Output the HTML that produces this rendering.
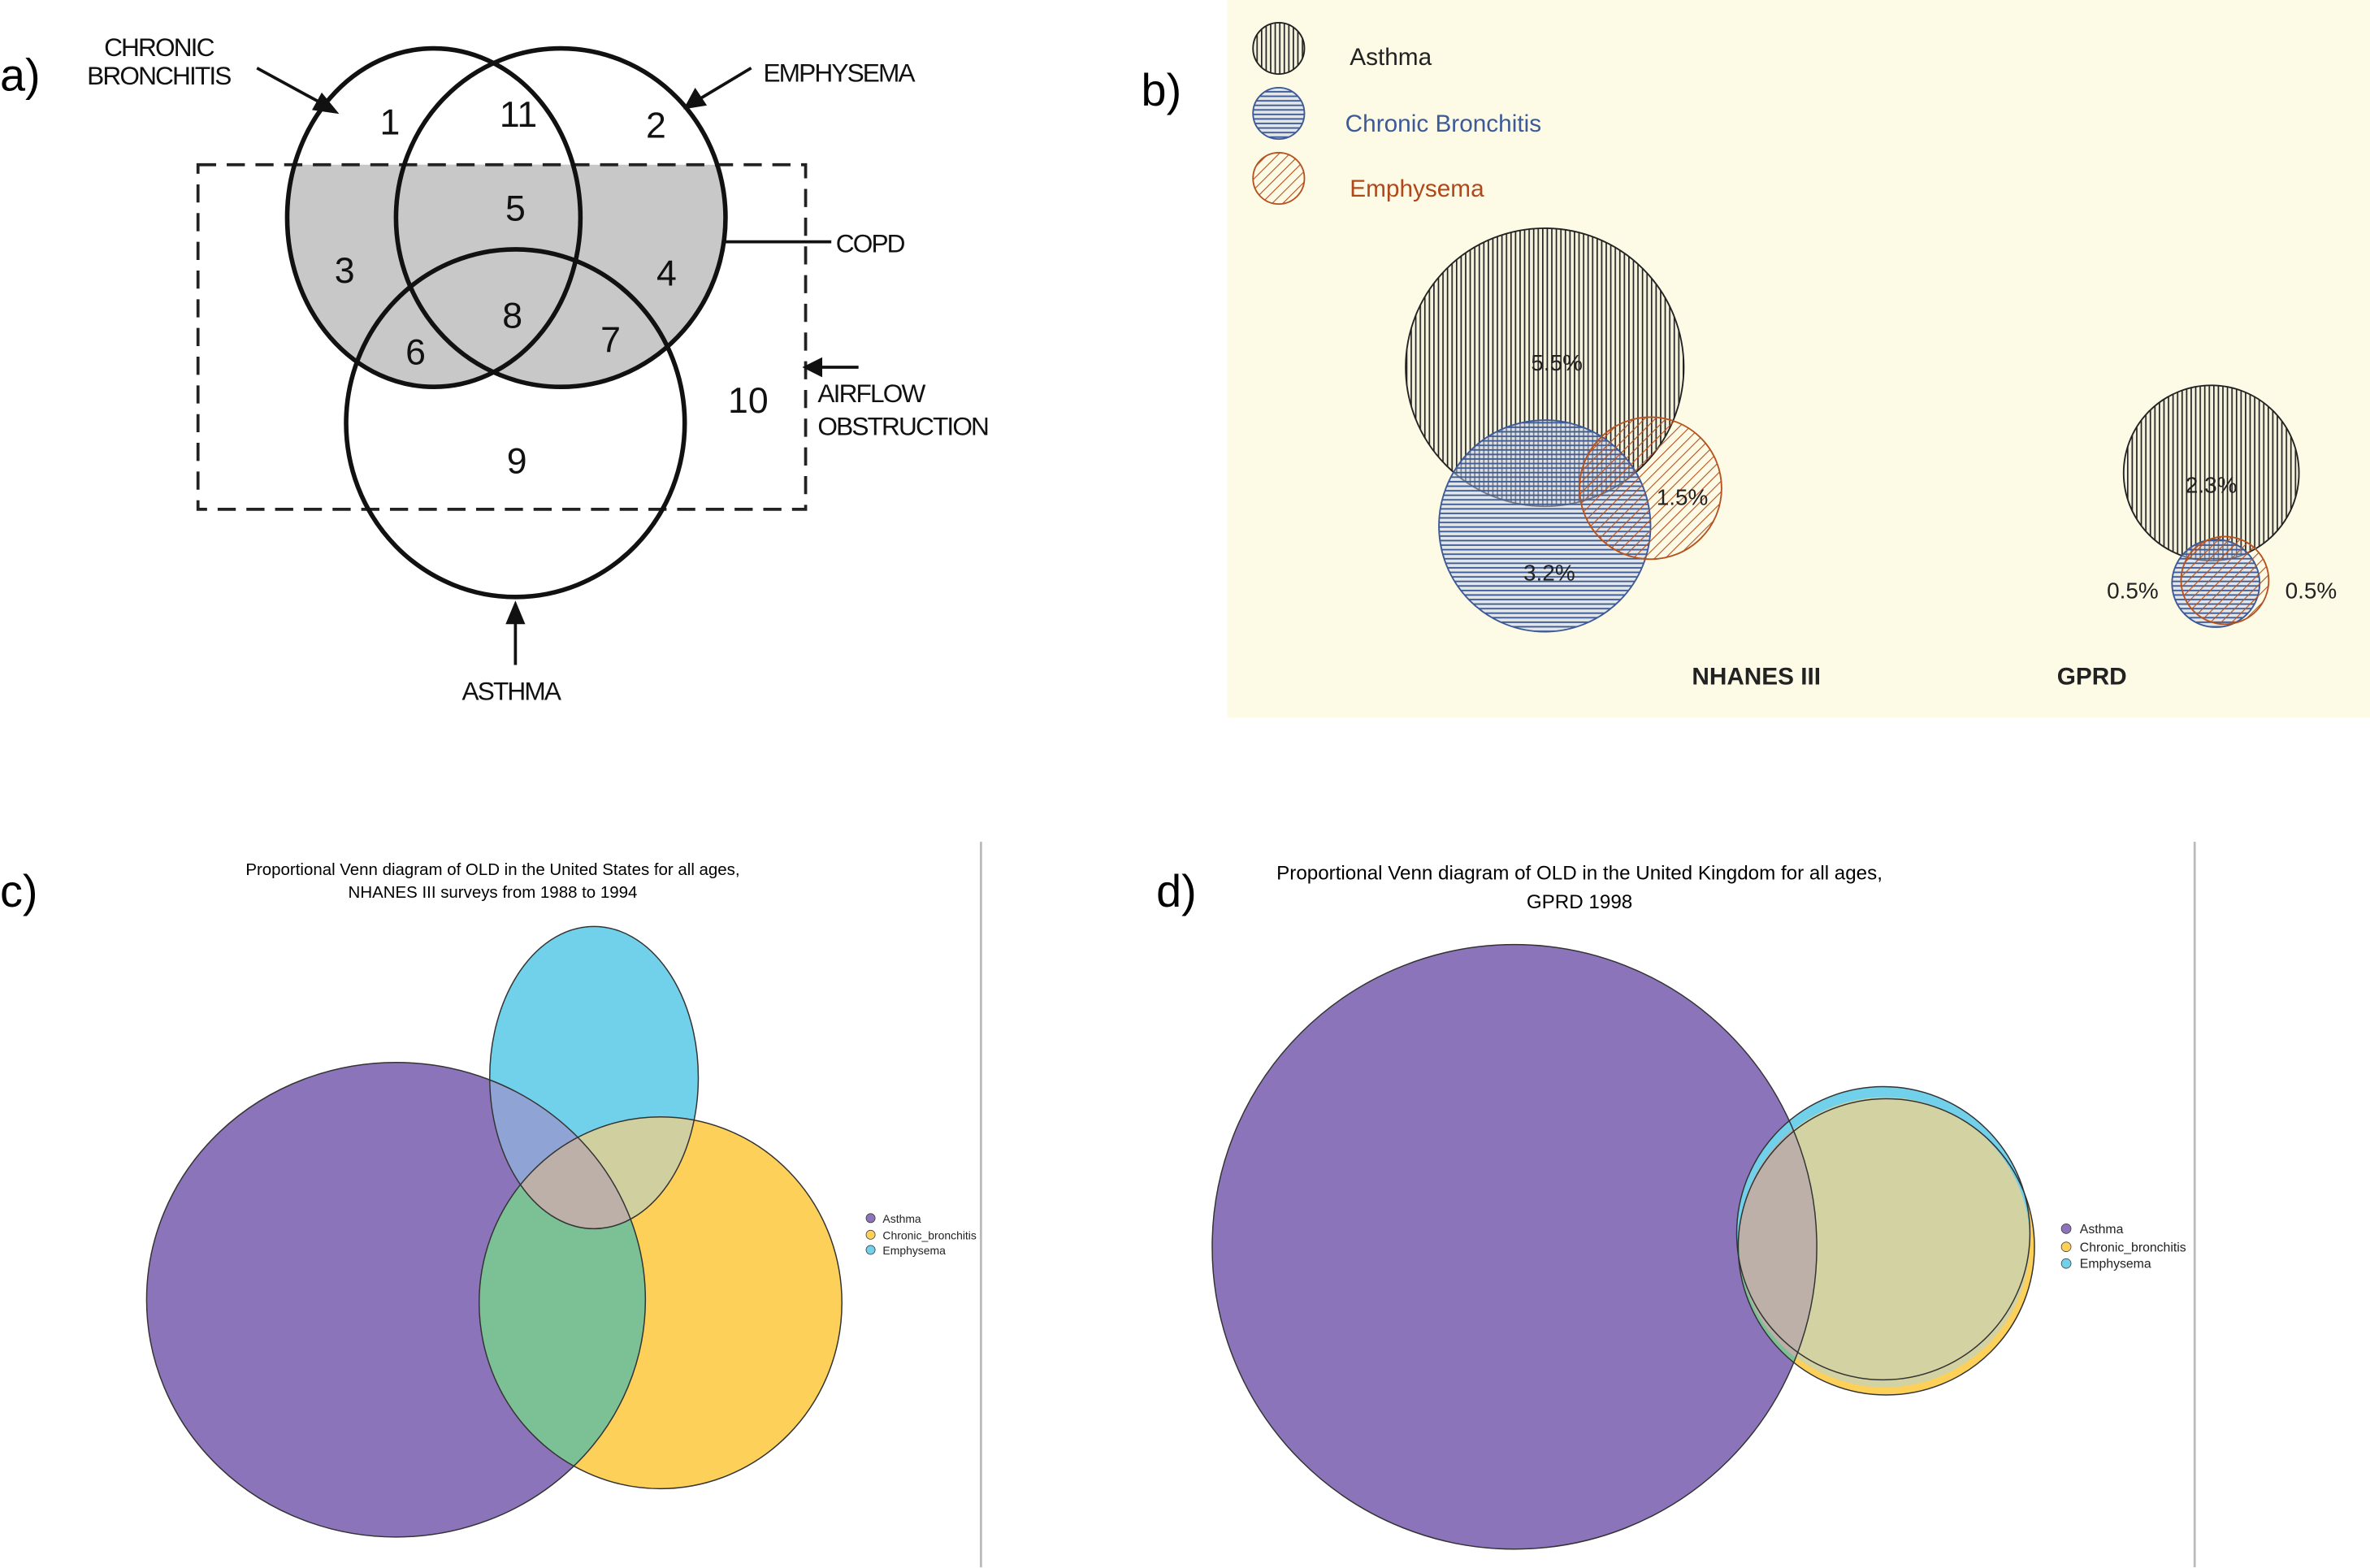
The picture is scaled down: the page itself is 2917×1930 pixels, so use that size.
<!DOCTYPE html>
<html><head><meta charset="utf-8"><style>
html,body{margin:0;padding:0;background:#fff;}
svg{display:block;}
text{font-family:"Liberation Sans",sans-serif;}
</style></head><body>
<svg width="2917" height="1930" viewBox="0 0 1568 1037.5" preserveAspectRatio="none" xmlns="http://www.w3.org/2000/svg">
<defs>
<pattern id="pv" width="3" height="3" patternUnits="userSpaceOnUse"><rect width="3" height="3" fill="#f4f1dc"/><line x1="0.7" y1="0" x2="0.7" y2="3" stroke="#222" stroke-width="0.9"/></pattern>
<pattern id="ph" width="3" height="3" patternUnits="userSpaceOnUse"><rect width="3" height="3" fill="#c9d2e6" fill-opacity="0.5"/><line x1="0" y1="0.7" x2="3" y2="0.7" stroke="#3c5a98" stroke-width="1"/></pattern>
<pattern id="pd" width="5" height="5" patternUnits="userSpaceOnUse" patternTransform="rotate(45)"><line x1="0" y1="0" x2="0" y2="5" stroke="#b5521f" stroke-width="1.2"/></pattern>
<clipPath id="cb"><ellipse cx="287" cy="144" rx="97" ry="112"/></clipPath>
<clipPath id="em"><ellipse cx="371" cy="144" rx="109" ry="112"/></clipPath>
<clipPath id="below"><rect x="0" y="109" width="700" height="400"/></clipPath>
<clipPath id="cP"><ellipse cx="262" cy="860" rx="165" ry="157"/></clipPath>
<clipPath id="cY"><ellipse cx="437" cy="862" rx="120" ry="123"/></clipPath>
<clipPath id="cC"><ellipse cx="393" cy="713" rx="69" ry="100"/></clipPath>
<clipPath id="dP"><circle cx="1002" cy="825" r="200"/></clipPath>
</defs>

<!-- Panel a -->
<text x="0" y="60" font-family="Liberation Sans" font-size="30">a)</text>
<g clip-path="url(#below)">
<ellipse cx="287" cy="144" rx="97" ry="112" fill="#c8c8c8"/>
<ellipse cx="371" cy="144" rx="109" ry="112" fill="#c8c8c8"/>
</g>
<rect x="131" y="109" width="402" height="228" fill="none" stroke="#222" stroke-width="2" stroke-dasharray="12,7"/>
<ellipse cx="287" cy="144" rx="97" ry="112" fill="none" stroke="#111" stroke-width="3"/>
<ellipse cx="371" cy="144" rx="109" ry="112" fill="none" stroke="#111" stroke-width="3"/>
<ellipse cx="341" cy="280" rx="112" ry="115" fill="none" stroke="#111" stroke-width="3"/>
<g font-size="24" text-anchor="middle" fill="#111">
<text x="258" y="89">1</text><text x="343" y="84">11</text><text x="434" y="91">2</text>
<text x="341" y="146">5</text><text x="228" y="187">3</text><text x="441" y="189">4</text>
<text x="339" y="217">8</text><text x="275" y="241">6</text><text x="404" y="233">7</text>
<text x="495" y="273">10</text><text x="342" y="313">9</text>
</g>
<g font-size="17" fill="#111" letter-spacing="-1">
<text x="105" y="37" text-anchor="middle">CHRONIC</text>
<text x="105" y="56" text-anchor="middle">BRONCHITIS</text>
<text x="505" y="54">EMPHYSEMA</text>
<text x="553" y="167">COPD</text>
<text x="541" y="266">AIRFLOW</text>
<text x="541" y="288">OBSTRUCTION</text>
<text x="338" y="463" text-anchor="middle">ASTHMA</text>
</g>
<g stroke="#111" stroke-width="2" fill="#111">
<line x1="170" y1="45" x2="214" y2="69"/><polygon points="222,74 208,72 213,63"/>
<line x1="497" y1="45" x2="462" y2="66"/><polygon points="454,71 460,60 466,69"/>
<line x1="480" y1="160" x2="550" y2="160"/>
<line x1="568" y1="243" x2="540" y2="243"/><polygon points="533,243 543,238 543,248"/>
<line x1="341" y1="440" x2="341" y2="410"/><polygon points="341,400 336,412 346,412"/>
</g>

<!-- Panel b -->
<text x="755" y="70" font-size="30">b)</text>
<rect x="812" y="0" width="756" height="475" fill="#fdfbe6"/>
<ellipse cx="846" cy="32" rx="17" ry="17" fill="url(#pv)" stroke="#222"/>
<ellipse cx="846" cy="75" rx="17" ry="17" fill="url(#ph)" stroke="#3c5a98"/>
<ellipse cx="846" cy="118" rx="17" ry="17" fill="url(#pd)" stroke="#b5521f"/>
<text x="893" y="43" font-size="16" fill="#222">Asthma</text>
<text x="890" y="87" font-size="16" fill="#3c5a98">Chronic Bronchitis</text>
<text x="893" y="130" font-size="16" fill="#b0481a">Emphysema</text>
<circle cx="1022" cy="243" r="92" fill="url(#pv)" stroke="#222"/>
<circle cx="1022" cy="348" r="70" fill="url(#ph)" stroke="#3c5a98"/>
<circle cx="1092" cy="323" r="47" fill="url(#pd)" stroke="#b5521f"/>
<circle cx="1463" cy="313" r="58" fill="url(#pv)" stroke="#222"/>
<circle cx="1466" cy="386" r="29" fill="url(#ph)" stroke="#3c5a98"/>
<circle cx="1472" cy="384" r="29" fill="url(#pd)" stroke="#b5521f"/>
<g font-size="15" fill="#222" text-anchor="middle">
<text x="1030" y="245">5.5%</text><text x="1113" y="334">1.5%</text><text x="1025" y="384">3.2%</text>
<text x="1463" y="326">2.3%</text><text x="1411" y="396">0.5%</text><text x="1529" y="396">0.5%</text>
<text x="1162" y="453" font-weight="bold" font-size="16">NHANES III</text>
<text x="1384" y="453" font-weight="bold" font-size="16">GPRD</text>
</g>

<!-- Panel c -->
<text x="0" y="600" font-size="30">c)</text>
<text x="326" y="579" font-size="11" text-anchor="middle">Proportional Venn diagram of OLD in the United States for all ages,</text>
<text x="326" y="594" font-size="11" text-anchor="middle">NHANES III surveys from 1988 to 1994</text>
<line x1="649" y1="557" x2="649" y2="1037" stroke="#bbb" stroke-width="1.5"/>
<ellipse cx="262" cy="860" rx="165" ry="157" fill="#8c74bb"/>
<ellipse cx="437" cy="862" rx="120" ry="123" fill="#fdd05a"/>
<ellipse cx="393" cy="713" rx="69" ry="100" fill="#72d1ea"/>
<g clip-path="url(#cP)"><ellipse cx="437" cy="862" rx="120" ry="123" fill="#7cc096"/><ellipse cx="393" cy="713" rx="69" ry="100" fill="#8fa3d4"/></g>
<g clip-path="url(#cY)"><ellipse cx="393" cy="713" rx="69" ry="100" fill="#d0cfa0"/></g>
<g clip-path="url(#cP)"><g clip-path="url(#cY)"><ellipse cx="393" cy="713" rx="69" ry="100" fill="#bcb0a8"/></g></g>
<g fill="none" stroke="#333" stroke-width="0.8">
<ellipse cx="262" cy="860" rx="165" ry="157"/><ellipse cx="437" cy="862" rx="120" ry="123"/><ellipse cx="393" cy="713" rx="69" ry="100"/>
</g>
<g font-size="7.5" fill="#222">
<circle cx="576" cy="806" r="3" fill="#8c74bb" stroke="#333" stroke-width="0.4"/><text x="584" y="809">Asthma</text>
<circle cx="576" cy="817" r="3" fill="#fdd05a" stroke="#333" stroke-width="0.4"/><text x="584" y="820">Chronic_bronchitis</text>
<circle cx="576" cy="827" r="3" fill="#72d1ea" stroke="#333" stroke-width="0.4"/><text x="584" y="830">Emphysema</text>
</g>

<!-- Panel d -->
<text x="765" y="600" font-size="30">d)</text>
<text x="1045" y="582" font-size="13" text-anchor="middle">Proportional Venn diagram of OLD in the United Kingdom for all ages,</text>
<text x="1045" y="601" font-size="13" text-anchor="middle">GPRD 1998</text>
<line x1="1452" y1="557" x2="1452" y2="1037" stroke="#bbb" stroke-width="1.5"/>
<circle cx="1002" cy="825" r="200" fill="#8c74bb"/>
<circle cx="1248" cy="825" r="98" fill="#fdd05a"/>
<circle cx="1246" cy="816" r="97" fill="#72d1ea"/>
<circle cx="1247" cy="822" r="96" fill="#d3d2a3"/>
<g clip-path="url(#dP)"><circle cx="1248" cy="825" r="98" fill="#7cc096"/><circle cx="1247" cy="822" r="96.5" fill="#bcb0a8"/></g>
<g fill="none" stroke="#333" stroke-width="0.8">
<circle cx="1002" cy="825" r="200"/><circle cx="1248" cy="825" r="98"/><circle cx="1246" cy="816" r="97"/>
</g>
<g font-size="8.5" fill="#222">
<circle cx="1367" cy="813" r="3.2" fill="#8c74bb" stroke="#333" stroke-width="0.4"/><text x="1376" y="816">Asthma</text>
<circle cx="1367" cy="825" r="3.2" fill="#fdd05a" stroke="#333" stroke-width="0.4"/><text x="1376" y="828">Chronic_bronchitis</text>
<circle cx="1367" cy="836" r="3.2" fill="#72d1ea" stroke="#333" stroke-width="0.4"/><text x="1376" y="839">Emphysema</text>
</g>
</svg>
</body></html>
